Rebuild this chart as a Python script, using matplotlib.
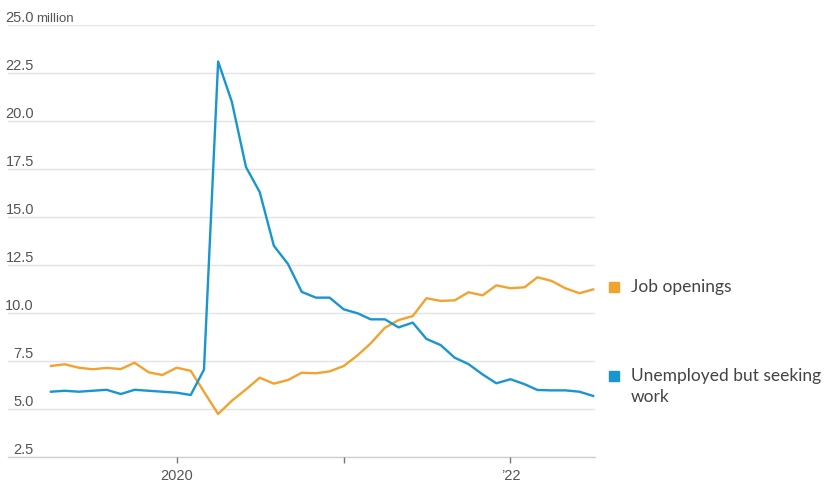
"""Job openings vs unemployed people seeking work, monthly, in millions."""

import matplotlib
matplotlib.use("Agg")
import matplotlib.pyplot as plt
from matplotlib.patches import Rectangle
import pandas as pd

months = pd.date_range("2019-04-01", "2022-07-01", freq="MS")

job_openings = [
    7.24, 7.33, 7.15, 7.07, 7.14, 7.08, 7.41, 6.91, 6.77,
    7.15, 6.99, 5.90, 4.74, 5.43, 6.02, 6.63, 6.32, 6.51, 6.89, 6.86, 6.96,
    7.24, 7.81, 8.42, 9.23, 9.63, 9.84, 10.77, 10.63, 10.66, 11.08, 10.92, 11.44,
    11.29, 11.34, 11.86, 11.67, 11.29, 11.03, 11.23,
]
unemployed = [
    5.90, 5.95, 5.90, 5.95, 6.00, 5.78, 6.00, 5.95, 5.90,
    5.85, 5.73, 7.05, 23.1, 21.0, 17.6, 16.3, 13.5, 12.55, 11.1, 10.8, 10.8,
    10.19, 9.98, 9.67, 9.67, 9.25, 9.50, 8.65, 8.33, 7.67, 7.34, 6.80, 6.34,
    6.55, 6.29, 5.99, 5.97, 5.97, 5.90, 5.68,
]

y_ticks = [2.5, 5.0, 7.5, 10.0, 12.5, 15.0, 17.5, 20.0, 22.5, 25.0]
x_ticks = ["2020-01-01", "2021-01-01", "2022-01-01"]
x_tick_labels = ["2020", "", "\u201922"]

series_labels = ["Job openings", "Unemployed but seeking\nwork"]
ORANGE = "#f2a22f"
BLUE = "#1995cf"
TEXT = "#555555"

W, H = 825, 484
AX_L, AX_R, AX_T, AX_B = 8, 595, 25, 457
plt.rcParams["font.family"] = ["Liberation Sans", "DejaVu Sans"]


def fx(x):
    return x / W


def fy(y):
    return 1 - y / H


def ax_x(x):
    # pixel x -> axes fraction
    return (x - AX_L) / (AX_R - AX_L)


fig = plt.figure(figsize=(W / 100, H / 100), dpi=100)
ax = fig.add_axes([fx(AX_L), fy(AX_B), fx(AX_R) - fx(AX_L), fy(AX_T) - fy(AX_B)])

ax.plot(months, job_openings, color=ORANGE, linewidth=1.7, solid_joinstyle="round")
ax.plot(months, unemployed, color=BLUE, linewidth=1.7, solid_joinstyle="round")

ax.set_ylim(2.5, 25)
ax.set_xlim(pd.Timestamp("2018-12-28"), pd.Timestamp("2022-07-05"))
ax.set_yticks(y_ticks)
ax.yaxis.grid(True, color="#e3e3e3", linewidth=1)
ax.set_axisbelow(True)
ax.tick_params(axis="y", length=0, labelleft=False)
for s in ax.spines.values():
    s.set_visible(False)
ax.axhline(2.5, color="#cfcfcf", linewidth=1, clip_on=False, zorder=0)

ax.set_xticks(pd.to_datetime(x_ticks))
ax.set_xticklabels(x_tick_labels)
ax.tick_params(axis="x", length=4, width=1, color="#777777", direction="out",
               labelsize=10.5, labelcolor=TEXT, pad=5)

# y labels sit just above their gridlines, right-aligned
for v in y_ticks:
    ax.text(ax_x(34), v, f"{v:.1f}", transform=ax.get_yaxis_transform(),
            ha="right", va="bottom", fontsize=10.5, color=TEXT)
ax.text(ax_x(36), y_ticks[-1], "million", transform=ax.get_yaxis_transform(),
        ha="left", va="bottom", fontsize=9.5, color=TEXT)

# legend on the right
for (ly, lab, col) in [(287, series_labels[0], ORANGE), (376, series_labels[1], BLUE)]:
    fig.add_artist(Rectangle((fx(609), fy(ly + 5)), fx(10), 10 / H,
                             transform=fig.transFigure, color=col))
    fig.text(fx(631), fy(ly - 8), lab, ha="left", va="top", fontsize=12.5,
             color="#444444", linespacing=1.4, family=["Lato", "DejaVu Sans"])

fig.savefig("out.png", dpi=100)
